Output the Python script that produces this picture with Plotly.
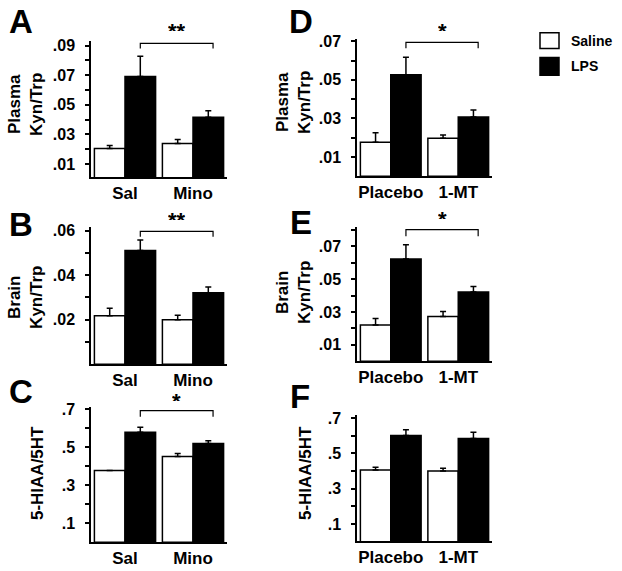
import plotly.graph_objects as go

W, H = 622, 571
FONT = "Arial, Liberation Sans, sans-serif"

# ---------------- data ----------------
groups_left = ["Sal", "Mino"]
groups_right = ["Placebo", "1-MT"]
series_names = ["Saline", "LPS"]

A_saline = [0.0205, 0.0238]
A_saline_err = [0.0020, 0.0027]
A_lps = [0.069, 0.0416]
A_lps_err = [0.0138, 0.0043]

B_saline = [0.0218, 0.0200]
B_saline_err = [0.0033, 0.0020]
B_lps = [0.0511, 0.0321]
B_lps_err = [0.0047, 0.0026]

C_saline = [0.377, 0.450]
C_saline_err = [0.0, 0.017]
C_lps = [0.578, 0.519]
C_lps_err = [0.026, 0.014]

D_saline = [0.0176, 0.0197]
D_saline_err = [0.0050, 0.0017]
D_lps = [0.0527, 0.0307]
D_lps_err = [0.0090, 0.0037]

E_saline = [0.0221, 0.0273]
E_saline_err = [0.0040, 0.0030]
E_lps = [0.0623, 0.0422]
E_lps_err = [0.0087, 0.0034]

F_saline = [0.406, 0.400]
F_saline_err = [0.015, 0.015]
F_lps = [0.601, 0.584]
F_lps_err = [0.032, 0.035]

kyn_ticks_odd = [0.01, 0.02, 0.03, 0.04, 0.05, 0.06, 0.07, 0.08, 0.09]
kyn_labels_odd = [".01", "", ".03", "", ".05", "", ".07", "", ".09"]
kyn_ticks_even = [0.01, 0.02, 0.03, 0.04, 0.05, 0.06]
kyn_labels_even = ["", ".02", "", ".04", "", ".06"]
kyn_ticks_d = [0.01, 0.02, 0.03, 0.04, 0.05, 0.06, 0.07]
kyn_labels_d = [".01", "", ".03", "", ".05", "", ".07"]
kyn_ticks_e = [0.01, 0.02, 0.03, 0.04, 0.05, 0.06, 0.07, 0.08]
kyn_labels_e = [".01", "", ".03", "", ".05", "", ".07", ""]
ratio_ticks = [0.1, 0.2, 0.3, 0.4, 0.5, 0.6, 0.7]
ratio_labels = [".1", "", ".3", "", ".5", "", ".7"]

# --------------- layout helpers ---------------
def px_x(p):
    return p / W

def px_y(p):
    return 1 - p / H

panels = [
    dict(letter="A", cats=groups_left, sal=A_saline, sal_e=A_saline_err, lps=A_lps, lps_e=A_lps_err,
         box=(91, 227, 35, 173), yr=[0.0011, 0.0933], tv=kyn_ticks_odd, tt=kyn_labels_odd,
         title="Plasma<br>Kyn/Trp", tpos=(26, 100), lpos=(21, 16),
         sig="**", br=(0.980, 0.942, 1.17)),
    dict(letter="B", cats=groups_left, sal=B_saline, sal_e=B_saline_err, lps=B_lps, lps_e=B_lps_err,
         box=(91, 227, 223, 362), yr=[0, 0.0618], tv=kyn_ticks_even, tt=kyn_labels_even,
         title="Brain<br>Kyn/Trp", tpos=(26, 295), lpos=(21, 221),
         sig="**", br=(0.966, 0.926, 1.15)),
    dict(letter="C", cats=groups_left, sal=C_saline, sal_e=C_saline_err, lps=C_lps, lps_e=C_lps_err,
         box=(91, 227, 405, 542), yr=[0, 0.712], tv=ratio_ticks, tt=ratio_labels,
         title="5-HIAA/5HT", tpos=(37, 472), lpos=(21, 390),
         sig="*", br=(0.971, 0.927, 1.145)),
    dict(letter="D", cats=groups_right, sal=D_saline, sal_e=D_saline_err, lps=D_lps, lps_e=D_lps_err,
         box=(357, 492, 33, 172), yr=[0, 0.0714], tv=kyn_ticks_d, tt=kyn_labels_d,
         title="Plasma<br>Kyn/Trp", tpos=(294, 98), lpos=(301, 16),
         sig="*", br=(0.973, 0.930, 1.16)),
    dict(letter="E", cats=groups_right, sal=E_saline, sal_e=E_saline_err, lps=E_lps, lps_e=E_lps_err,
         box=(357, 492, 223, 359), yr=[0, 0.082], tv=kyn_ticks_e, tt=kyn_labels_e,
         title="Brain<br>Kyn/Trp", tpos=(294, 290), lpos=(301, 219),
         sig="*", br=(0.978, 0.929, 1.16)),
    dict(letter="F", cats=groups_right, sal=F_saline, sal_e=F_saline_err, lps=F_lps, lps_e=F_lps_err,
         box=(357, 492, 413, 541), yr=[0.002, 0.719], tv=ratio_ticks, tt=ratio_labels,
         title="5-HIAA/5HT", tpos=(305, 472), lpos=(300, 395),
         sig=None, br=None),
]

fig = go.Figure()
annotations = []
shapes = []
BARGAP = 0.1
half = (1 - BARGAP) / 4  # offset of each bar center from category center

for i, p in enumerate(panels, start=1):
    xa = "x" if i == 1 else f"x{i}"
    ya = "y" if i == 1 else f"y{i}"
    for name, vals, errs, fill in [
        (series_names[0], p["sal"], p["sal_e"], "white"),
        (series_names[1], p["lps"], p["lps_e"], "black"),
    ]:
        fig.add_trace(go.Bar(
            x=p["cats"], y=vals, name=name, xaxis=xa, yaxis=ya,
            marker=dict(color=fill, line=dict(color="black", width=1.5)),
            error_y=dict(type="data", symmetric=False, array=errs,
                         arrayminus=[0] * len(errs), color="black",
                         thickness=1.5, width=3),
            showlegend=False, hoverinfo="skip",
        ))
    x0, x1, y0, y1 = p["box"]
    xkey = "xaxis" if i == 1 else f"xaxis{i}"
    ykey = "yaxis" if i == 1 else f"yaxis{i}"
    fig.update_layout(**{
        xkey: dict(domain=[px_x(x0), px_x(x1)], anchor=ya, type="category",
                   range=[-0.5, 1.5], showline=True, linecolor="black", linewidth=1.5,
                   ticks="", ticklen=0, showgrid=False, zeroline=False, ticklabelstandoff=0,
                   tickfont=dict(family=FONT, size=17, color="black", weight="bold")),
        ykey: dict(domain=[px_y(y1), px_y(y0)], anchor=xa, range=p["yr"],
                   showline=True, linecolor="black", linewidth=1.5,
                   ticks="outside", ticklen=4, tickwidth=1.5, tickcolor="black",
                   tickvals=p["tv"], ticktext=p["tt"], showgrid=False, zeroline=False,
                   ticklabelstandoff=7,
                   tickfont=dict(family=FONT, size=16, color="black", weight="bold")),
    })
    # panel letter
    annotations.append(dict(text=p["letter"], xref="paper", yref="paper",
                            x=px_x(p["lpos"][0]), y=px_y(p["lpos"][1]),
                            xanchor="center", yanchor="middle", showarrow=False,
                            font=dict(family=FONT, size=33, color="black", weight="bold")))
    # y title
    annotations.append(dict(text=p["title"], xref="paper", yref="paper",
                            x=px_x(p["tpos"][0]), y=px_y(p["tpos"][1]),
                            xanchor="center", yanchor="middle", showarrow=False,
                            textangle=-90,
                            font=dict(family=FONT, size=17, color="black", weight="bold")))
    # significance bracket
    if p["sig"]:
        bx0 = 0 + half
        bx1 = 1 + half + 0.07
        ytop, ydrop, ystar = p["br"]
        shapes.append(dict(type="path", xref=xa, yref=f"{ya} domain",
                           path=f"M {bx0},{ydrop} L {bx0},{ytop} L {bx1},{ytop} L {bx1},{ydrop}",
                           line=dict(color="black", width=1.2)))
        annotations.append(dict(text=p["sig"], xref=xa, yref=f"{ya} domain",
                                x=(bx0 + bx1) / 2, y=ystar, xanchor="center", yanchor="top",
                                height=12, valign="top", showarrow=False,
                                font=dict(family=FONT, size=22, color="black", weight="bold")))

# legend drawn manually
legend_items = [(series_names[0], "white", 27, 43, 35), (series_names[1], "black", 52, 70, 61)]
for name, fill, t, b, c in legend_items:
    shapes.append(dict(type="rect", xref="paper", yref="paper",
                       x0=px_x(540), x1=px_x(559), y0=px_y(b), y1=px_y(t),
                       fillcolor=fill, line=dict(color="black", width=1.5)))
    annotations.append(dict(text=name, xref="paper", yref="paper",
                            x=px_x(569), y=px_y(c), xanchor="left", yanchor="middle",
                            showarrow=False,
                            font=dict(family=FONT, size=14, color="black", weight="bold")))

fig.update_layout(
    width=W, height=H, margin=dict(l=0, r=0, t=0, b=0),
    paper_bgcolor="white", plot_bgcolor="white",
    barmode="group", bargap=BARGAP, bargroupgap=0,
    showlegend=False, annotations=annotations, shapes=shapes,
    font=dict(family=FONT, color="black"),
)

fig.write_html("out.html", config={"displayModeBar": False},
               post_script="document.body.style.margin='0';document.body.style.padding='0';document.body.style.overflow='hidden';")
